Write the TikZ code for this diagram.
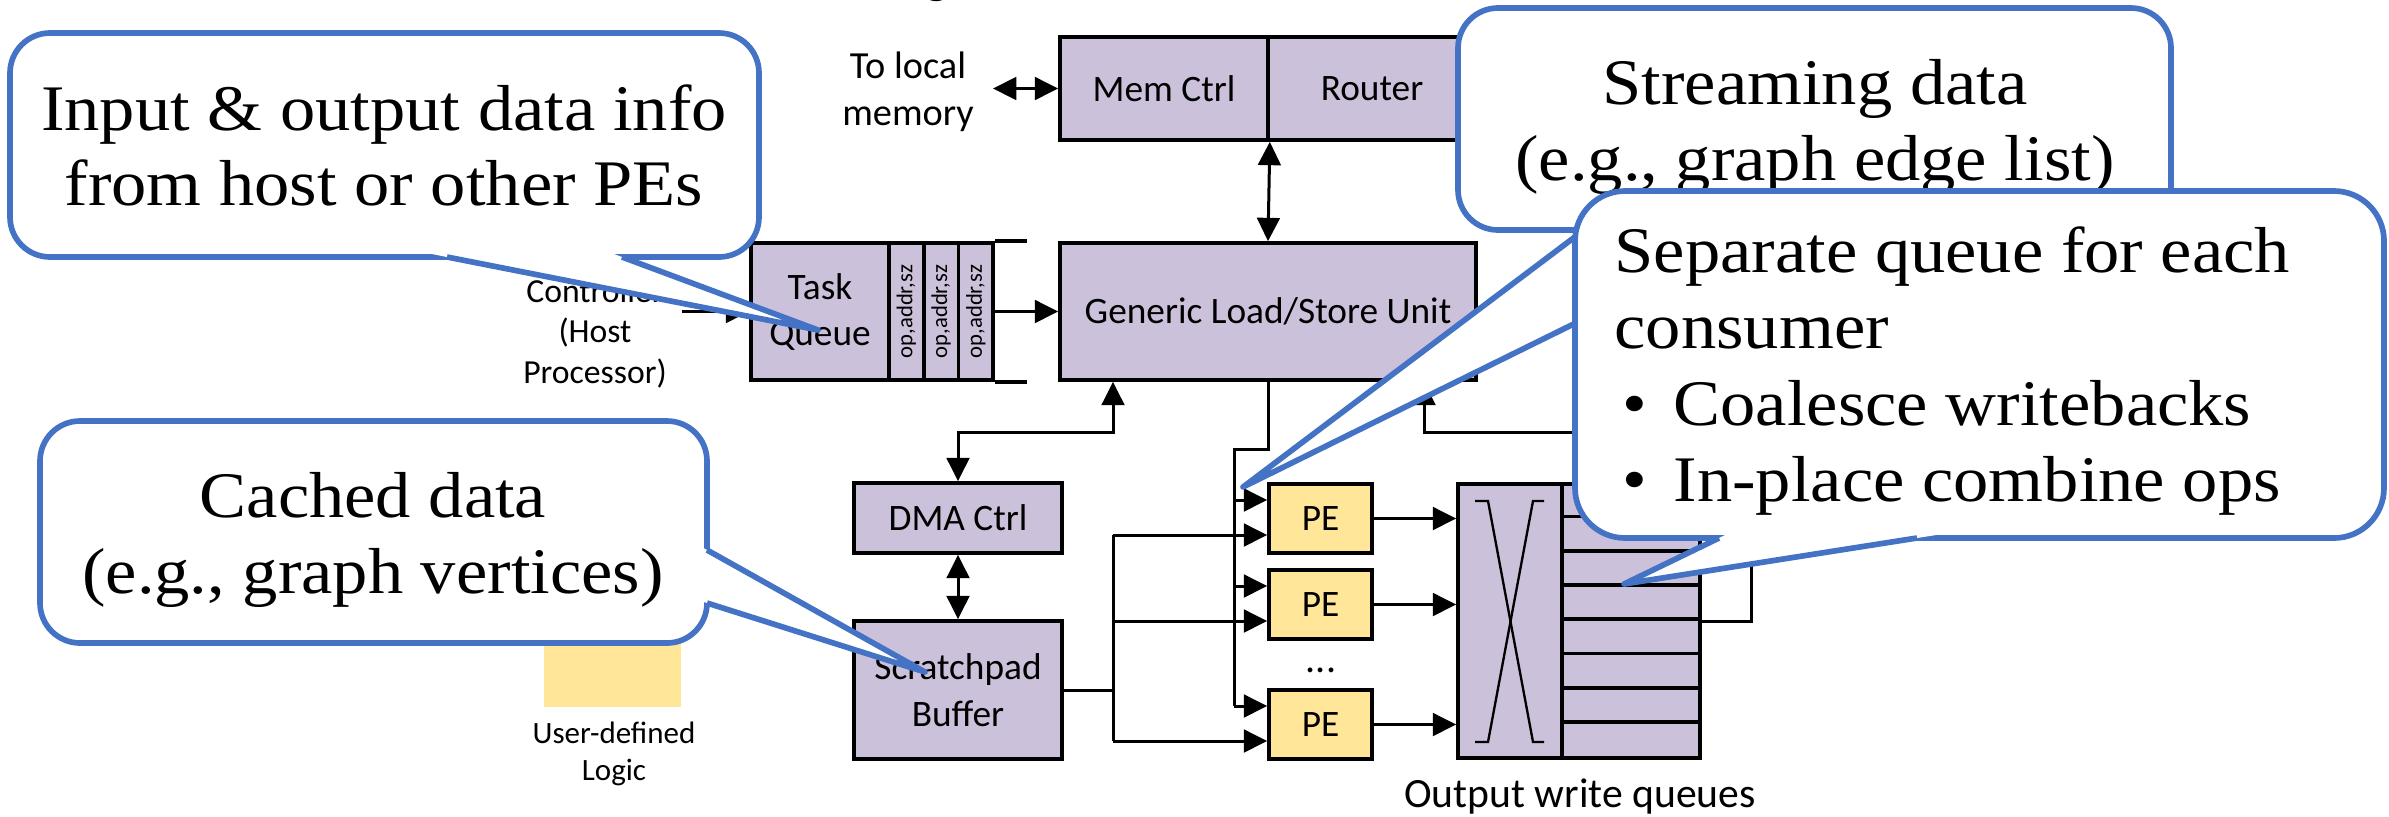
\documentclass[tikz,border=0pt]{standalone}
\usepackage{fontspec}
\usepackage{graphicx}
\setmainfont{Carlito}
\newfontfamily\callfont[FakeStretch=1.085]{Liberation Serif}
\usetikzlibrary{arrows.meta,calc}
\definecolor{boxpurple}{HTML}{CCC1DA}
\definecolor{peyellow}{HTML}{FFE699}
\definecolor{callblue}{HTML}{4472C4}
\newcommand\labfont{\fontsize{11.2}{13.8}\selectfont}
\newcommand\calltail[3]{%
  \fill[white] ($(#2)!1.2!(#1)$) -- (#2) -- ($(#2)!1.2!(#3)$) -- cycle;
  \draw[callline] (#1) -- (#2) -- (#3);}
\def\U{0.3pt}
\begin{document}
\begin{tikzpicture}[x=0.3pt,y=-0.3pt,
  box/.style={draw=black, line width=1.1pt, fill=boxpurple, inner sep=0pt, align=center, font=\labfont},
  pebox/.style={box, fill=peyellow},
  conn/.style={line width=0.9pt},
  arr/.style={conn, -{Triangle[length=7pt,width=6.8pt]}},
  dbl/.style={conn, {Triangle[length=7pt,width=6.8pt]}-{Triangle[length=7pt,width=6.8pt]}},
  callbox/.style={draw=callblue, line width=1.7pt, fill=white, rounded corners=12pt},
  callline/.style={draw=callblue, line width=1.7pt, line join=round},
  calltext/.style={font=\callfont\fontsize{19.5}{22.8}\selectfont, anchor=base, inner sep=0pt},
  lbl/.style={anchor=base, inner sep=0pt}
]
\useasboundingbox (0,0) rectangle (2389,816);
\fill[white] (0,0) rectangle (2389,816);

% title fragment
\node[lbl, font=\fontsize{16}{16}\selectfont] (ttl) at (937,-8) {g};

% boxes
\node[box, minimum width=208*\U, minimum height=103*\U] (memctrl) at (1164,88.5) {Mem Ctrl};
\node[box, minimum width=208*\U, minimum height=103*\U] (router) at (1372,88.5) {Router};
\node[box, minimum width=416*\U, minimum height=137*\U] (lsu) at (1268,311.5) {Generic Load/Store Unit};
\node[box, minimum width=138*\U, minimum height=137*\U] (taskq) at (820,311.5) {Task\\Queue};
\node[box, minimum width=34.7*\U, minimum height=137*\U] (q1) at (906.35,311.5) {\rotatebox{90}{\fontsize{6.8}{8}\selectfont op,addr,sz}};
\node[box, minimum width=34.7*\U, minimum height=137*\U] (q2) at (941.05,311.5) {\rotatebox{90}{\fontsize{6.8}{8}\selectfont op,addr,sz}};
\node[box, minimum width=34.7*\U, minimum height=137*\U] (q3) at (975.75,311.5) {\rotatebox{90}{\fontsize{6.8}{8}\selectfont op,addr,sz}};
\coordinate (qend) at (1027,311.5);
\draw[line width=1.1pt] (q3.north east) -- (q3.north east -| qend);
\draw[line width=1.1pt] (q3.south east) -- (q3.south east -| qend);

\node[box, minimum width=208*\U, minimum height=70*\U] (dma) at (958,518) {DMA Ctrl};
\node[box, minimum width=208*\U, minimum height=138*\U, font=\fontsize{11.2}{14.1}\selectfont] (spad) at (958,690) {Scratchpad\\Buffer};

\node[pebox, minimum width=103*\U, minimum height=69*\U] (pe1) at (1320.5,518.5) {PE};
\node[pebox, minimum width=103*\U, minimum height=69*\U] (pe2) at (1320.5,604.5) {PE};
\node[pebox, minimum width=103*\U, minimum height=69*\U] (pe3) at (1320.5,724.5) {PE};
\node[lbl, font=\fontsize{12}{12}\selectfont] (dots) at (1321,672) {...};

\node[box, minimum width=104*\U, minimum height=274*\U] (sw) at (1510,621) {};
\node[box, minimum width=138*\U, minimum height=274*\U] (owq) at (1631,621) {};
\foreach \k in {1,...,7}
  \draw[line width=1.1pt] ($(owq.north west)+(0,\k*34.25)$) -- ($(owq.north east)+(0,\k*34.25)$);
\draw[line width=0.7pt] (1475,501) -- (1488,501) -- (1533,742) -- (1544,742);
\draw[line width=0.7pt] (1544,501) -- (1533,501) -- (1488,742) -- (1475,742);

\node[fill=peyellow, minimum width=137*\U, minimum height=136*\U, inner sep=0pt] (udl) at (612.5,639) {};

% free labels
\node[lbl, font=\fontsize{11.5}{14}\selectfont] (tl1) at (908,78) {To local};
\node[lbl, font=\fontsize{11.5}{14}\selectfont] (tl2) at (908,125) {memory};
\node[lbl, font=\fontsize{10.1}{12}\selectfont] (ct1) at (595,302) {Controller};
\node[lbl, font=\fontsize{10.1}{12}\selectfont] (ct2) at (595,342) {(Host};
\node[lbl, font=\fontsize{10.1}{12}\selectfont] (ct3) at (595,383) {Processor)};
\node[lbl, font=\fontsize{9.3}{11}\selectfont] (ud1) at (614,743) {User-defined};
\node[lbl, font=\fontsize{9.3}{11}\selectfont] (ud2) at (614,780) {Logic};
\node[lbl, font=\fontsize{12.5}{14}\selectfont] (owqlbl) at (1580,807) {Output write queues};

% connectors
\coordinate (lm) at (993,88.5);
\draw[dbl] (lm) -- (memctrl.west);
\draw[dbl] (memctrl.south east) -- (lsu.north);
\coordinate (ctl) at (682,311.5);
\draw[arr] (ctl) -- (taskq.west);
\draw[arr] (q3.east) -- (lsu.west);
\coordinate (j1) at (1113,432);
\draw[dbl] (dma.north) |- (j1) -- (j1 |- lsu.south);
\draw[dbl] (dma.south) -- (spad.north);

\coordinate (pe1u) at ([yshift=5.55pt]pe1.west);
\coordinate (pe1l) at ([yshift=-4.95pt]pe1.west);
\coordinate (pe2u) at ([yshift=5.55pt]pe2.west);
\coordinate (pe2l) at ([yshift=-4.95pt]pe2.west);
\coordinate (pe3u) at ([yshift=5.55pt]pe3.west);
\coordinate (pe3l) at ([yshift=-4.95pt]pe3.west);

\coordinate (j2) at (1234,449);
\draw[conn] (lsu.south) -- (lsu.south |- j2) -- (j2) -- (j2 |- pe3u);
\draw[arr] (j2 |- pe1u) -- (pe1u);
\draw[arr] (j2 |- pe2u) -- (pe2u);
\draw[arr] (j2 |- pe3u) -- (pe3u);

\coordinate (j3) at (spad.east -| j1);
\draw[conn] (spad.east) -- (j3);
\draw[conn] (j3 |- pe1l) -- (j3 |- pe3l);
\draw[arr] (j3 |- pe1l) -- (pe1l);
\draw[arr] (j3 |- pe2l) -- (pe2l);
\draw[arr] (j3 |- pe3l) -- (pe3l);

\draw[arr] (pe1.east) -- (pe1.east -| sw.west);
\draw[arr] (pe2.east) -- (pe2.east -| sw.west);
\draw[arr] (pe3.east) -- (pe3.east -| sw.west);

\coordinate (j4) at (1751,432);
\coordinate (j5) at (1424,432);
\draw[arr] (owq.east) -| (j4) -- (j5) -- (j5 |- lsu.south);

% callout 1
\draw[callbox] (10,33) rectangle (759,257);
\coordinate (c1b1) at (447,257);
\coordinate (c1tip) at (818,330);
\coordinate (c1b2) at (622,257);
\calltail{c1b1}{c1tip}{c1b2}
\node[calltext] (c1a) at (384,130) {Input \& output data info};
\node[calltext] (c1b) at (384,205) {from host or other PEs};

% callout 4
\draw[callbox] (40,421) rectangle (707,643);
\coordinate (c4b1) at (707,550);
\coordinate (c4tip) at (925,672);
\coordinate (c4b2) at (707,603);
\calltail{c4b1}{c4tip}{c4b2}
\node[calltext] (c4a) at (373,517) {Cached data};
\node[calltext] (c4b) at (373,593) {(e.g., graph vertices)};

% callout 2
\draw[callbox] (1458,8) rectangle (2171,230);
\coordinate (c2b1) at (1600,218);
\coordinate (c2tip) at (1243,487);
\coordinate (c2b2) at (1600,311);
\calltail{c2b1}{c2tip}{c2b2}
\node[calltext] (c2a) at (1815,104) {Streaming data};
\node[calltext] (c2b) at (1815,180) {(e.g., graph edge list)};

% callout 3
\draw[callbox, rounded corners=15pt] (1575,191) rectangle (2384,538);
\coordinate (c3b1) at (1719,538);
\coordinate (c3tip) at (1624,584);
\coordinate (c3b2) at (1917,538);
\calltail{c3b1}{c3tip}{c3b2}
\node[calltext, anchor=base west] (c3a) at (1614,272) {Separate queue for each};
\node[calltext, anchor=base west] (c3b) at (1614,348) {consumer};
\node[calltext, anchor=base west] (c3c) at (1622,425) {\makebox[15.3pt][l]{\textbullet}Coalesce writebacks};
\node[calltext, anchor=base west] (c3d) at (1622,501) {\makebox[15.3pt][l]{\textbullet}In-place combine ops};
\end{tikzpicture}
\end{document}
